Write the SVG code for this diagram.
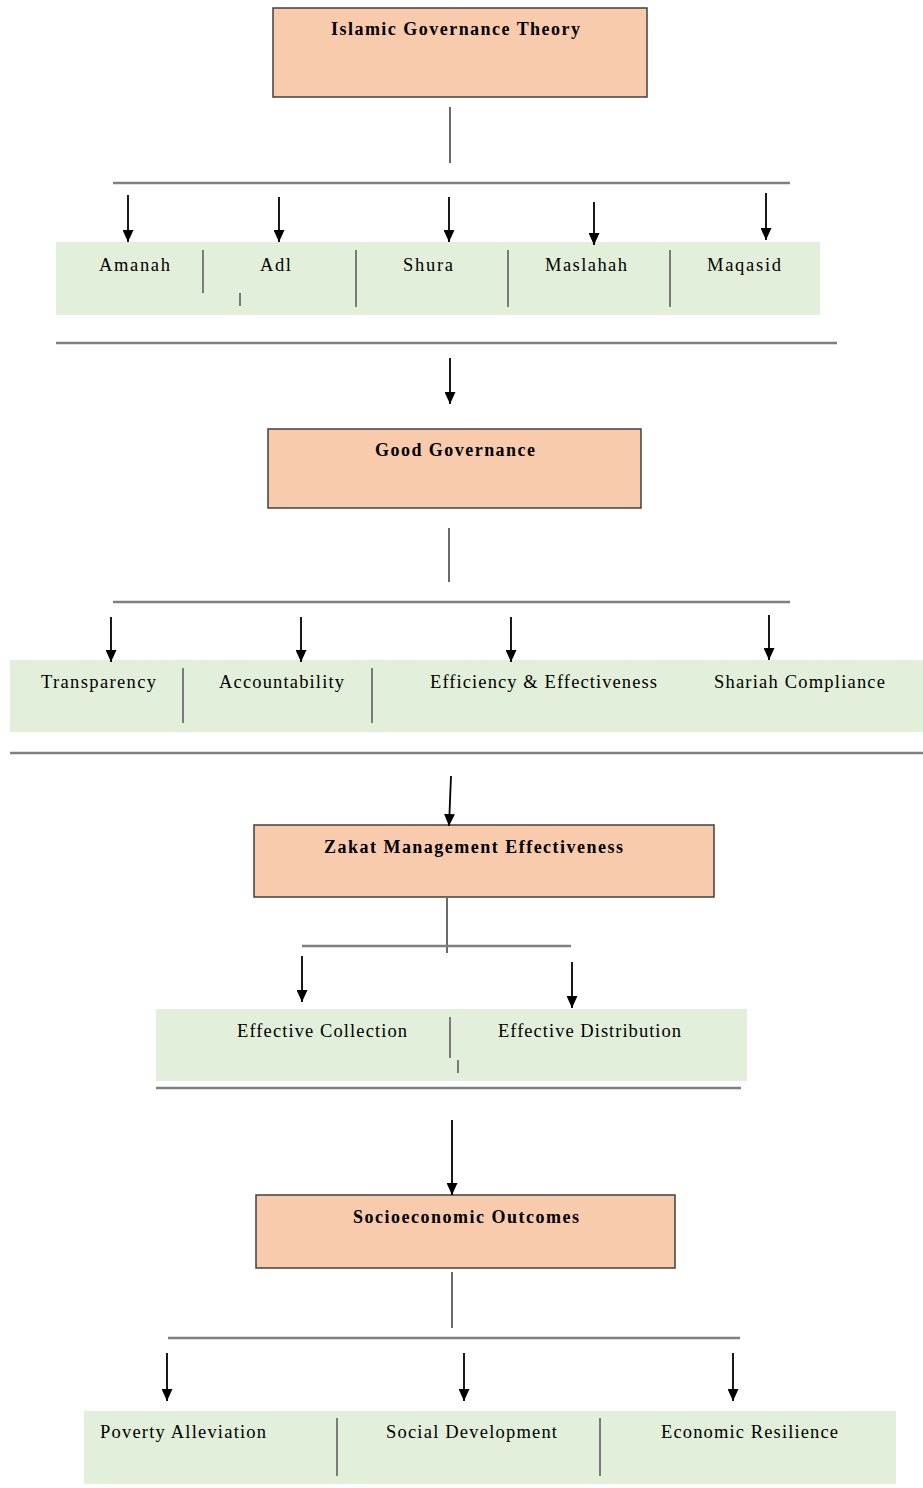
<svg xmlns="http://www.w3.org/2000/svg" width="923" height="1488" viewBox="0 0 923 1488">
<defs>
<marker id="ah" markerWidth="12" markerHeight="11" refX="12" refY="5.5" orient="auto" markerUnits="userSpaceOnUse" viewBox="0 0 12 11">
<path d="M0,0 L12,5.5 L0,11 Z" fill="#000"/>
</marker>
<style>
.box{fill:#F8CBAD;stroke:#404040;stroke-width:1.5}
.band{fill:#E2EFDA;stroke:none}
.title{font-family:"Liberation Serif","Times New Roman",serif;font-weight:bold;font-size:18px;fill:#000}
.lbl{font-family:"Liberation Serif","Times New Roman",serif;font-size:18.5px;fill:#000}
.hl{stroke:#7f7f7f;stroke-width:2.5;fill:none}
.vl{stroke:#6a6a6a;stroke-width:2;fill:none}
.sep{stroke:#7a7a7a;stroke-width:2;fill:none}
.arr{stroke:#000;stroke-width:1.8;fill:none;marker-end:url(#ah)}
</style>
</defs>
<rect width="923" height="1488" fill="#fff"/>

<g id="islamic-governance-theory">
<rect class="box" x="273" y="8" width="374" height="89"/>
<text class="title" x="331" y="35" textLength="249" lengthAdjust="spacing">Islamic Governance Theory</text>
</g>

<g id="principles">
<rect class="band" x="56" y="242" width="764" height="73"/>
<line class="sep" x1="203" y1="250" x2="203" y2="293"/>
<line class="sep" x1="240" y1="293" x2="240" y2="306"/>
<line class="sep" x1="356" y1="250" x2="356" y2="307"/>
<line class="sep" x1="508" y1="250" x2="508" y2="307"/>
<line class="sep" x1="670" y1="250" x2="670" y2="307"/>
<text class="lbl" x="99" y="271" textLength="71" lengthAdjust="spacing">Amanah</text>
<text class="lbl" x="260" y="271" textLength="31" lengthAdjust="spacing">Adl</text>
<text class="lbl" x="403" y="271" textLength="50" lengthAdjust="spacing">Shura</text>
<text class="lbl" x="545" y="271" textLength="82" lengthAdjust="spacing">Maslahah</text>
<text class="lbl" x="707" y="271" textLength="74" lengthAdjust="spacing">Maqasid</text>
</g>

<g id="good-governance">
<rect class="box" x="268" y="429" width="373" height="79"/>
<text class="title" x="375" y="456" textLength="160" lengthAdjust="spacing">Good Governance</text>
</g>

<g id="governance-dimensions">
<rect class="band" x="10" y="660" width="913" height="72"/>
<line class="sep" x1="183" y1="668" x2="183" y2="723"/>
<line class="sep" x1="372" y1="668" x2="372" y2="723"/>
<text class="lbl" x="41" y="688" textLength="115" lengthAdjust="spacing">Transparency</text>
<text class="lbl" x="219" y="688" textLength="125" lengthAdjust="spacing">Accountability</text>
<text class="lbl" x="430" y="688" textLength="227" lengthAdjust="spacing">Efficiency &amp; Effectiveness</text>
<text class="lbl" x="714" y="688" textLength="171" lengthAdjust="spacing">Shariah Compliance</text>
</g>

<g id="zakat-management-effectiveness">
<rect class="box" x="254" y="825" width="460" height="72"/>
<text class="title" x="324" y="853" textLength="299" lengthAdjust="spacing">Zakat Management Effectiveness</text>
</g>

<g id="zakat-functions">
<rect class="band" x="156" y="1009" width="591" height="72"/>
<line class="sep" x1="450" y1="1017" x2="450" y2="1058"/>
<line class="sep" x1="458" y1="1060" x2="458" y2="1073"/>
<text class="lbl" x="237" y="1037" textLength="170" lengthAdjust="spacing">Effective Collection</text>
<text class="lbl" x="498" y="1037" textLength="183" lengthAdjust="spacing">Effective Distribution</text>
</g>

<g id="socioeconomic-outcomes">
<rect class="box" x="256" y="1195" width="419" height="73"/>
<text class="title" x="353" y="1223" textLength="226" lengthAdjust="spacing">Socioeconomic Outcomes</text>
</g>

<g id="outcomes">
<rect class="band" x="84" y="1411" width="812" height="73"/>
<line class="sep" x1="337" y1="1418" x2="337" y2="1476"/>
<line class="sep" x1="600" y1="1418" x2="600" y2="1476"/>
<text class="lbl" x="100" y="1438" textLength="166" lengthAdjust="spacing">Poverty Alleviation</text>
<text class="lbl" x="386" y="1438" textLength="171" lengthAdjust="spacing">Social Development</text>
<text class="lbl" x="661" y="1438" textLength="177" lengthAdjust="spacing">Economic Resilience</text>
</g>

<g id="connectors">
<line class="vl" x1="450" y1="107" x2="450" y2="163"/>
<line class="hl" x1="113" y1="183" x2="790" y2="183"/>
<line class="arr" x1="128" y1="195" x2="128" y2="242"/>
<line class="arr" x1="279" y1="197" x2="279" y2="242"/>
<line class="arr" x1="449" y1="197" x2="449" y2="242"/>
<line class="arr" x1="594" y1="202" x2="594" y2="245"/>
<line class="arr" x1="766" y1="193" x2="766" y2="240"/>
<line class="hl" x1="56" y1="343" x2="837" y2="343"/>
<line class="arr" x1="450" y1="358" x2="450" y2="404"/>

<line class="vl" x1="449" y1="528" x2="449" y2="582"/>
<line class="hl" x1="113" y1="602" x2="790" y2="602"/>
<line class="arr" x1="111" y1="617" x2="111" y2="662"/>
<line class="arr" x1="301" y1="617" x2="301" y2="662"/>
<line class="arr" x1="511" y1="617" x2="511" y2="662"/>
<line class="arr" x1="769" y1="615" x2="769" y2="660"/>
<line class="hl" x1="10" y1="753" x2="923" y2="753"/>
<line class="arr" x1="451" y1="776" x2="449" y2="826"/>

<line class="vl" x1="447" y1="897" x2="447" y2="953"/>
<line class="hl" x1="302" y1="946" x2="571" y2="946"/>
<line class="arr" x1="302" y1="956" x2="302" y2="1002"/>
<line class="arr" x1="572" y1="962" x2="572" y2="1008"/>
<line class="hl" x1="156" y1="1088" x2="741" y2="1088"/>
<line class="arr" x1="452" y1="1120" x2="452" y2="1195"/>

<line class="vl" x1="452" y1="1272" x2="452" y2="1328"/>
<line class="hl" x1="168" y1="1338" x2="740" y2="1338"/>
<line class="arr" x1="167" y1="1353" x2="167" y2="1401"/>
<line class="arr" x1="464" y1="1353" x2="464" y2="1401"/>
<line class="arr" x1="733" y1="1353" x2="733" y2="1401"/>
</g>
</svg>
